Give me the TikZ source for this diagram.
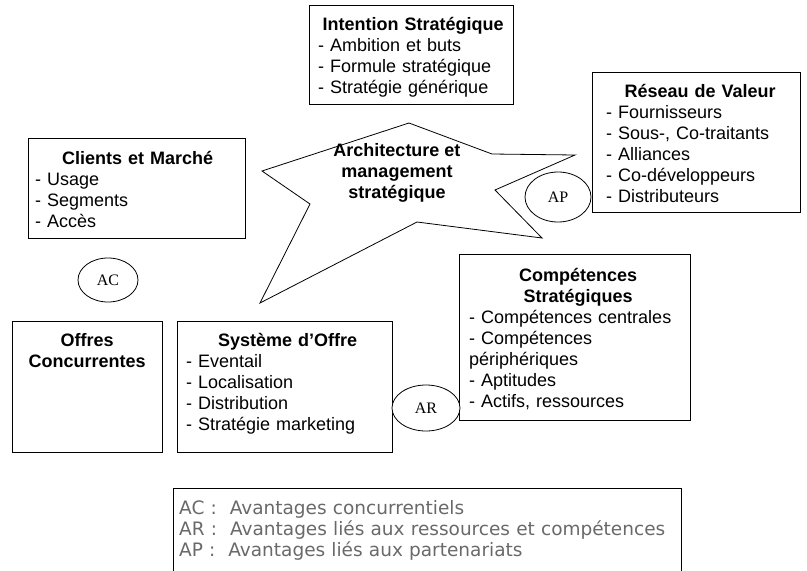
\documentclass[tikz,border=0pt]{standalone}
\usepackage{fontspec}
\setmainfont{Liberation Sans}
\newfontfamily\romain{Liberation Serif}
\newfontfamily\legende{DejaVu Sans}
\usetikzlibrary{shapes.geometric}

\definecolor{gristexte}{RGB}{105,105,105}
\setlength{\parindent}{0pt}
\newcommand{\titre}[1]{{\centering\bfseries #1\par}}

\begin{document}
\begin{tikzpicture}[x=1pt,y=-1pt,
	boite/.style={rectangle,draw,line width=0.8pt,anchor=north west,inner sep=0pt},
	texte/.style={anchor=north west,inner sep=0pt,text width=#1,font=\fontsize{18}{21}\selectfont},
	avantage/.style={ellipse,draw,fill=white,line width=0.8pt,inner sep=0pt,font=\romain\fontsize{16}{18}\selectfont}]
	\useasboundingbox (0,0) rectangle (807,571);
	\clip (0,0) rectangle (807,571);
	% les cadres
	\node[boite,minimum width=204pt,minimum height=99pt] (intention) at (309,5) {};
	\node[boite,minimum width=208pt,minimum height=140pt] (reseau) at (592,72) {};
	\node[boite,minimum width=217pt,minimum height=100pt] (clients) at (28,138) {};
	\node[boite,minimum width=150pt,minimum height=131pt] (offres) at (12,321) {};
	\node[boite,minimum width=215pt,minimum height=131pt] (systeme) at (177,321) {};
	\node[boite,minimum width=231pt,minimum height=166pt] (competences) at (459,254) {};
	\node[boite,line width=1.3pt,minimum width=508pt,minimum height=120pt] (legende) at (173,488) {};
	% les textes des cadres
	\node[texte=190pt] (intentionTxt) at (318,17) {\titre{Intention Stratégique}\raggedright
		- Ambition et buts\\- Formule stratégique\\- Stratégie générique};
	\node[texte=188pt] (reseauTxt) at (606,84) {\titre{Réseau de Valeur}\raggedright
		- Fournisseurs\\- Sous-, Co-traitants\\- Alliances\\- Co-développeurs\\- Distributeurs};
	\node[texte=205pt] (clientsTxt) at (35,151) {\titre{Clients et Marché}\raggedright
		- Usage\\- Segments\\- Accès};
	\node[texte=140pt] (offresTxt) at (17,333) {\titre{Offres\\Concurrentes}};
	\node[texte=203pt] (systemeTxt) at (186,333) {\titre{Système d'Offre}\raggedright
		- Eventail\\- Localisation\\- Distribution\\- Stratégie marketing};
	\node[texte=218pt] (competencesTxt) at (469,268) {\titre{Compétences\\Stratégiques}\raggedright
		- Compétences centrales\\- Compétences\\périphériques\\- Aptitudes\\- Actifs, ressources};
	\node[texte=500pt,font=\legende\fontsize{18.5}{21}\selectfont,text=gristexte] (legendeTxt) at (179,500)
		{AC :\hspace{0.7em}Avantages concurrentiels\\
		 AR :\hspace{0.7em}Avantages liés aux ressources et compétences\\
		 AP :\hspace{0.7em}Avantages liés aux partenariats};
	% l'etoile centrale
	\draw[line width=0.8pt] (409,123) -- (492,154) -- (575,155) -- (495,190) -- (542,238)
		-- (417,222) -- (260,303) -- (310,204) -- (262,171) -- cycle;
	\node[font=\bfseries\fontsize{18}{21}\selectfont,align=center] (archi) at (397,173)
		{Architecture et\\management\\stratégique};
	% les avantages
	\node[avantage,minimum width=60pt,minimum height=44pt] (AC) at (108,280) {AC};
	\node[avantage,minimum width=66pt,minimum height=50pt] (AP) at (558,197) {AP};
	\node[avantage,minimum width=68pt,minimum height=46pt] (AR) at (426,408) {AR};
\end{tikzpicture}
\end{document}
